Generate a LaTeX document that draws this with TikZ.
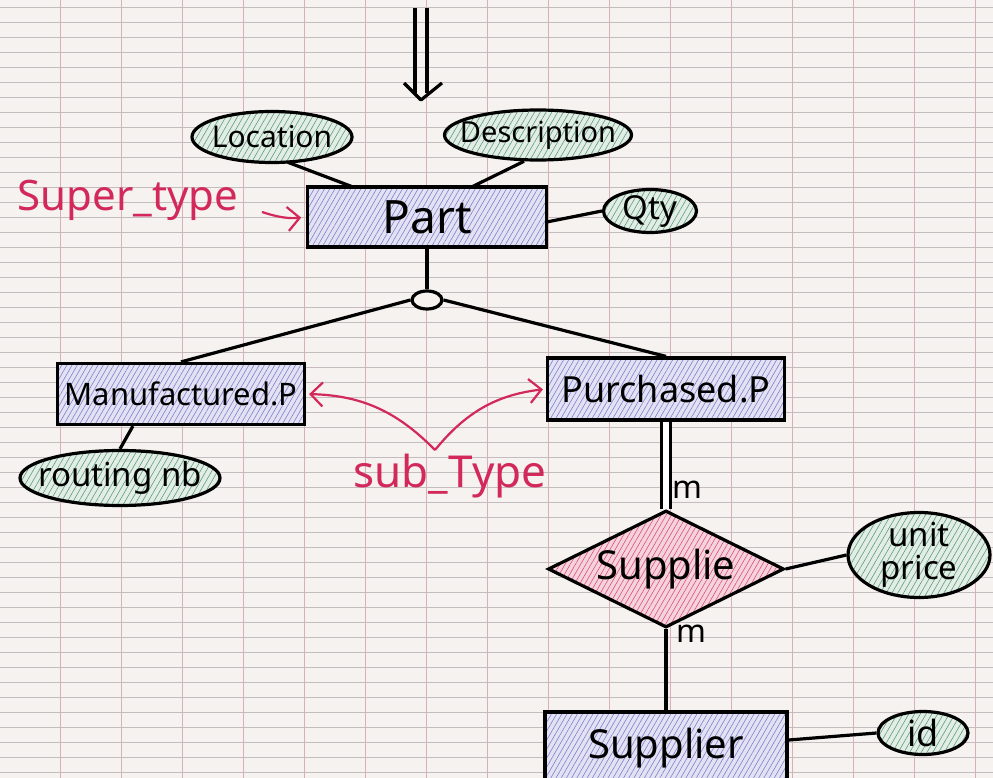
\documentclass[tikz,border=0pt]{standalone}
\usepackage{fontspec}
\setmainfont{Noto Sans}
\usetikzlibrary{shapes.geometric, patterns.meta, arrows.meta, calc}

\definecolor{paper}{HTML}{F5F2EF}
\definecolor{gridh}{HTML}{C4BCBE}
\definecolor{gridv}{HTML}{D9B0B8}
\definecolor{inkred}{HTML}{D2285A}
\definecolor{hatchblue}{HTML}{7E80CF}
\definecolor{hatchgreen}{HTML}{5F9C7C}
\definecolor{hatchpink}{HTML}{DE4F7C}
\definecolor{entfill}{HTML}{E3E2F2}
\definecolor{attfill}{HTML}{E2EDE5}
\definecolor{relfill}{HTML}{F4D3DD}

\newcommand\fsz[1]{\fontsize{#1}{#1}\selectfont}

\tikzset{
  entity/.style={draw, rectangle, line width=3.2pt, inner sep=0pt,
    preaction={fill=entfill},
    pattern={Lines[angle=60, distance=4.5pt, line width=0.6pt]},
    pattern color=hatchblue},
  attrib/.style={draw, ellipse, line width=3.2pt, inner sep=0pt,
    preaction={fill=attfill},
    pattern={Lines[angle=60, distance=5pt, line width=0.6pt]},
    pattern color=hatchgreen},
  relship/.style={draw, diamond, line width=3.2pt, inner sep=0pt,
    preaction={fill=relfill},
    pattern={Lines[angle=60, distance=4.5pt, line width=0.6pt]},
    pattern color=hatchpink},
  lbl/.style={font=\fsz{#1}, inner sep=0pt, align=center},
  link/.style={line width=3.2pt},
  redlabel/.style={text=inkred, font=\fsz{42}},
  redarrow/.style={draw=inkred, line width=2.2pt,
    -{Straight Barb[length=12pt, width=24pt]}},
}

\begin{document}
\begin{tikzpicture}[x=1pt, y=-1pt]
  \useasboundingbox (0,0) rectangle (993,778);
  \clip (0,0) rectangle (993,778);

  % ── Squared paper ────────────────────────────────────────────────
  \fill[paper] (0,0) rectangle (993,778);
  \foreach \y in {7,22,...,778}
    \draw[gridh, line width=0.7pt] (0,\y) -- (993,\y);
  \foreach \x in {60,121,...,993}
    \draw[gridv, line width=0.8pt] (\x,0) -- (\x,778);

  % ── Arrow coming from above ──────────────────────────────────────
  \coordinate (inL) at (415,8);
  \coordinate (inR) at (427,8);
  \draw[link] (inL) -- ++(0,85);
  \draw[link] (inR) -- ++(0,85);
  \draw[link, line join=round] (404,83) -- (421,100) -- (442,83);

  % ── Super-type Part and its attributes ───────────────────────────
  \node[entity, minimum width=239, minimum height=60, font=\fsz{46}]
    (part) at (427,217) {Part};
  \node[attrib, minimum width=160, minimum height=51,
    label={[lbl=30]center:Location}] (location) at (272,137) {};
  \node[attrib, minimum width=187, minimum height=50,
    label={[lbl=29]center:Description}] (description) at (538,135) {};
  \node[attrib, minimum width=93, minimum height=43,
    label={[lbl=33]center:Qty}] (qty) at (650,211) {};

  \draw[link] (location.-58) -- ([xshift=45pt]part.north west);
  \draw[link] (description.-118) -- ([xshift=165pt]part.north west);
  \draw[link] ([yshift=-5pt]part.east) -- (qty.west);

  \node[redlabel] (supertype) at (128,200) {Super\_type};
  \coordinate (stTail) at (262,212);
  \draw[redarrow, shorten >=6pt] (stTail) to[bend right=12] (part.west);

  % ── Specialisation ───────────────────────────────────────────────
  \node[draw, ellipse, line width=3.2pt, fill=paper, inner sep=0pt,
    minimum width=30, minimum height=18] (isa) at (427,300) {};
  \draw[link] (part.south) -- (isa.north);

  \node[entity, minimum width=247, minimum height=61, font=\fsz{31}]
    (manuf) at (181,394) {Manufactured.P};
  \node[entity, minimum width=237, minimum height=62, font=\fsz{36}]
    (purch) at (666,389) {Purchased.P};
  \draw[link] (isa.west) -- (manuf.north);
  \draw[link] (isa.east) -- (purch.north);

  \node[attrib, minimum width=200, minimum height=55,
    label={[lbl=33]center:routing nb}] (routing) at (120,478) {};
  \draw[link] ([xshift=77pt]manuf.south west) -- (routing.north);

  \node[redlabel, font=\fsz{44}] (subtype) at (450,476) {sub\_Type};
  \coordinate (stV) at (435,450);
  \draw[redarrow, shorten >=3pt] (stV) to[bend right=22] (manuf.east);
  \draw[redarrow, shorten >=3pt] (stV) to[bend left=22] (purch.west);

  % ── Relationship with Supplier ───────────────────────────────────
  \node[relship, minimum width=236, minimum height=117,
    label={[lbl=40]center:Supplie}] (supplie) at (666,569) {};
  \node[attrib, minimum width=142, minimum height=85,
    label={[lbl=33]center:unit\\price}] (unitprice) at (919,555) {};
  \node[entity, minimum width=242, minimum height=72, font=\fsz{40}]
    (supplier) at (666,748) {Supplier};
  \node[attrib, minimum width=90, minimum height=43,
    label={[lbl=36]center:id}] (idattr) at (923,733) {};

  \draw[link, double, double distance=6pt] (purch.south) -- (supplie.north);
  \draw[link] (supplie.south) -- (supplier.north);
  \draw[link] (supplie.east) -- (unitprice.west);
  \draw[link] ([yshift=8pt]supplier.east) -- (idattr.west);

  \node[font=\bfseries\fsz{32}] (m1) at (687,490) {m};
  \node[font=\bfseries\fsz{32}] (m2) at (691,634) {m};
\end{tikzpicture}
\end{document}
